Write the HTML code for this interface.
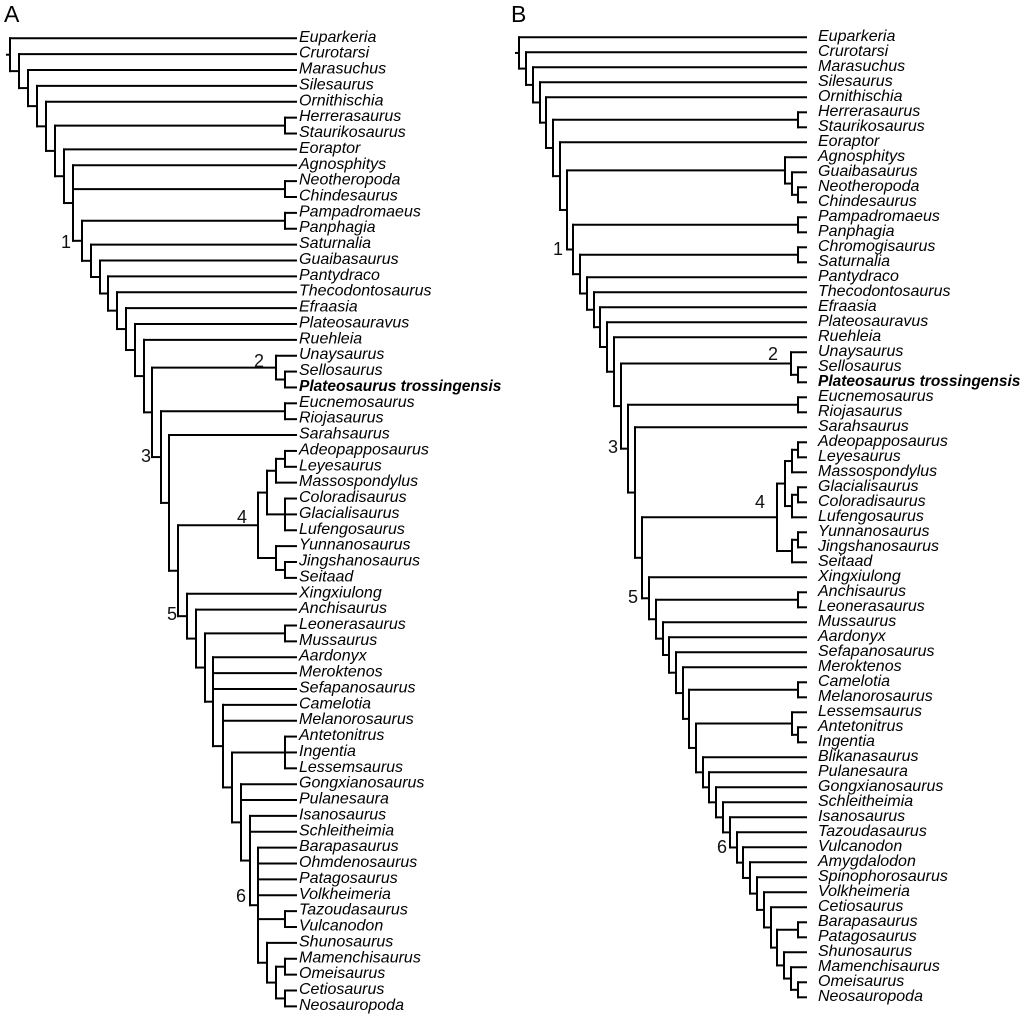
<!DOCTYPE html>
<html><head><meta charset="utf-8"><style>
html,body{margin:0;padding:0;background:#fff;}
svg{display:block;}
.t{font-family:"Liberation Sans",Arial,sans-serif;font-style:italic;font-size:16px;fill:#000;dominant-baseline:central;}
.b{font-weight:bold;font-size:15.5px;}
.n{font-family:"Liberation Sans",Arial,sans-serif;font-size:18px;fill:#111;text-anchor:middle;dominant-baseline:central;}
.p{font-family:"Liberation Sans",Arial,sans-serif;font-size:23px;fill:#000;}
</style></head><body>
<svg id="s" width="1024" height="1018" xmlns="http://www.w3.org/2000/svg">
<text class="p" x="4" y="22">A</text>
<text class="p" x="511" y="22">B</text>
<g id="g" stroke="#000" stroke-width="2" stroke-linecap="square" fill="none"></g>
</svg>
<script>
var NS="http://www.w3.org/2000/svg";
var svg=document.getElementById('s'),g=document.getElementById('g');
function N(x){return {x:x,c:Array.prototype.slice.call(arguments,1)};}
function chain(steps,last){var acc=last;for(var i=steps.length-1;i>=0;i--){var s=steps[i];acc={x:s[0],c:s.slice(1).concat([acc])};}return acc;}
function line(x1,y1,x2,y2){var l=document.createElementNS(NS,'line');l.setAttribute('x1',x1);l.setAttribute('y1',y1);l.setAttribute('x2',x2);l.setAttribute('y2',y2);g.appendChild(l);}
function txt(x,y,s,cls){var t=document.createElementNS(NS,'text');t.setAttribute('x',x);t.setAttribute('y',y);t.setAttribute('class',cls);t.textContent=s;svg.appendChild(t);}
function draw(tree,Y,tip){
  function yy(n){return typeof n==='number'?Y(n):n.y;}
  function lay(n){if(typeof n==='number')return;n.c.forEach(lay);n.y=(yy(n.c[0])+yy(n.c[n.c.length-1]))/2;}
  lay(tree);
  function dr(n){if(typeof n==='number')return;
    line(n.x,yy(n.c[0]),n.x,yy(n.c[n.c.length-1]));
    n.c.forEach(function(c){var cx=typeof c==='number'?tip:c.x;line(n.x,yy(c),cx,yy(c));dr(c);});}
  dr(tree);
  line(tree.x-3,tree.y,tree.x,tree.y);
}
var namesA=["Euparkeria","Crurotarsi","Marasuchus","Silesaurus","Ornithischia","Herrerasaurus","Staurikosaurus","Eoraptor","Agnosphitys","Neotheropoda","Chindesaurus","Pampadromaeus","Panphagia","Saturnalia","Guaibasaurus","Pantydraco","Thecodontosaurus","Efraasia","Plateosauravus","Ruehleia","Unaysaurus","Sellosaurus","Plateosaurus trossingensis","Eucnemosaurus","Riojasaurus","Sarahsaurus","Adeopapposaurus","Leyesaurus","Massospondylus","Coloradisaurus","Glacialisaurus","Lufengosaurus","Yunnanosaurus","Jingshanosaurus","Seitaad","Xingxiulong","Anchisaurus","Leonerasaurus","Mussaurus","Aardonyx","Meroktenos","Sefapanosaurus","Camelotia","Melanorosaurus","Antetonitrus","Ingentia","Lessemsaurus","Gongxianosaurus","Pulanesaura","Isanosaurus","Schleitheimia","Barapasaurus","Ohmdenosaurus","Patagosaurus","Volkheimeria","Tazoudasaurus","Vulcanodon","Shunosaurus","Mamenchisaurus","Omeisaurus","Cetiosaurus","Neosauropoda"];
var namesB=["Euparkeria","Crurotarsi","Marasuchus","Silesaurus","Ornithischia","Herrerasaurus","Staurikosaurus","Eoraptor","Agnosphitys","Guaibasaurus","Neotheropoda","Chindesaurus","Pampadromaeus","Panphagia","Chromogisaurus","Saturnalia","Pantydraco","Thecodontosaurus","Efraasia","Plateosauravus","Ruehleia","Unaysaurus","Sellosaurus","Plateosaurus trossingensis","Eucnemosaurus","Riojasaurus","Sarahsaurus","Adeopapposaurus","Leyesaurus","Massospondylus","Glacialisaurus","Coloradisaurus","Lufengosaurus","Yunnanosaurus","Jingshanosaurus","Seitaad","Xingxiulong","Anchisaurus","Leonerasaurus","Mussaurus","Aardonyx","Sefapanosaurus","Meroktenos","Camelotia","Melanorosaurus","Lessemsaurus","Antetonitrus","Ingentia","Blikanasaurus","Pulanesaura","Gongxianosaurus","Schleitheimia","Isanosaurus","Tazoudasaurus","Vulcanodon","Amygdalodon","Spinophorosaurus","Volkheimeria","Cetiosaurus","Barapasaurus","Patagosaurus","Shunosaurus","Mamenchisaurus","Omeisaurus","Neosauropoda"];
var c4A=N(258,N(267,N(276,N(285,26,27),28),N(285,29,30,31)),N(276,32,N(285,33,34)));
var tA=chain([[10,0],[19,1],[28,2],[37,3],[46,4],[55,N(285,5,6)],[64,7],[73,8,N(285,9,10)],[82,N(285,11,12)],[91,13],[100,14],[108,15],[117,16],[126,17],[135,18],[144,19],[152,N(276,20,N(285,21,22))],[161,N(285,23,24)],[169,25],[178,c4A],[187,35],[196,36],[205,N(285,37,38)],[213,39,40,41],[223,42,43],[232,N(285,44,45,46)],[241,47,48],[250,49,50]],
 N(258,51,52,53,54,N(285,55,56),N(267,57,N(276,N(285,58,59),N(285,60,61)))));
var c4B=N(777,N(785,N(792,N(798,27,28),29),N(792,N(798,30,31),32)),N(792,N(798,33,34),35));
var tB=chain([[519,0],[526,1],[533,2],[540,3],[546,4],[553,N(798,5,6)],[560,7],[567,N(785,8,N(792,9,N(798,10,11)))],[573,N(798,12,13)],[580,N(798,14,15)],[587,16],[594,17],[600,18],[607,19],[614,20],[621,N(791,21,N(798,22,23))],[628,N(798,24,25)],[635,26],[642,c4B],[649,36],[656,N(798,37,38)],[663,39],[669,40],[676,41],[683,42],[689,N(798,43,44)],[696,N(792,45,N(798,46,47))],[703,48],[709,49],[716,50],[723,51],[730,52],[737,53],[743,54],[750,55],[757,56],[764,57],[771,58],[777,N(798,59,60)],[784,61]],
 N(791,62,N(798,63,64)));
var YA=function(i){return 38.3+i*15.87;},YB=function(i){return 37.3+i*15.0;};
draw(tA,YA,296);draw(tB,YB,806);
namesA.forEach(function(n,i){txt(299,YA(i)-1,n,'t'+(i==22?' b':''));});
namesB.forEach(function(n,i){txt(818,YB(i)-1,n,'t'+(i==23?' b':''));});
[[66,242,'1'],[259,361,'2'],[146,456,'3'],[242,517,'4'],[172,614,'5'],[241,896,'6'],
 [558,249,'1'],[773,354,'2'],[613,447,'3'],[760,502,'4'],[633,597,'5'],[722,847,'6']].forEach(function(a){txt(a[0],a[1],a[2],'n');});
</script>
</body></html>
